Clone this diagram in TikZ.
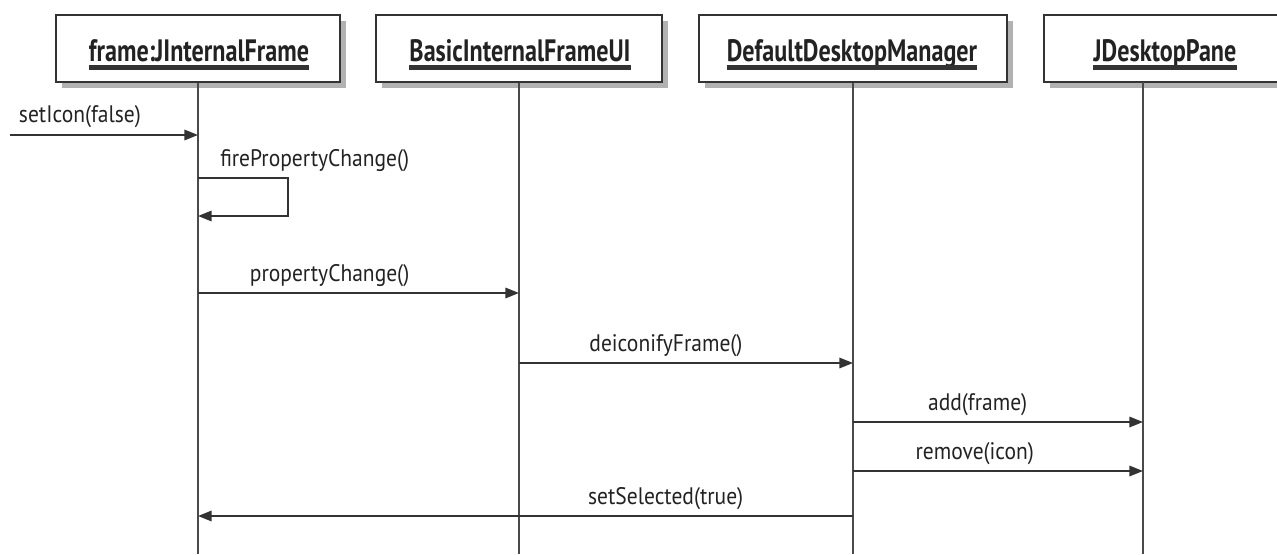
\documentclass[tikz,border=0pt]{standalone}
\usepackage{fontspec}
\setmainfont{PT Sans}[FakeStretch=0.9]
\newfontfamily\headfont{PT Sans}[FakeStretch=0.78]
\usetikzlibrary{arrows.meta,shadows}
\definecolor{SeqLine}{HTML}{333333}
\definecolor{SeqLife}{HTML}{4A4A4A}
\definecolor{SeqText}{HTML}{222222}

\begin{document}
\begin{tikzpicture}[x=0.025cm, y=-0.025cm,
  every node/.style={font=\fontsize{17}{20}\selectfont, text=SeqText},
  objbox/.style={draw=SeqLine, line width=1.4pt, fill=white, minimum height=1.675cm,
    drop shadow={shadow xshift=4pt, shadow yshift=-4pt, fill=black, opacity=0.3}},
  objname/.style={font=\headfont\bfseries\fontsize{22}{26}\selectfont, inner sep=0pt, anchor=base},
  uline/.style={line width=3.2pt, SeqLine},
  lifeline/.style={line width=1.4pt, SeqLife},
  msg/.style={line width=1.4pt, SeqLine, -{Triangle[length=0.34cm, width=0.26cm]}},
  lbl/.style={anchor=base, inner sep=0pt, yshift=0.28cm}]

\useasboundingbox (0,0) rectangle (1277,554);

% objects
\node[objbox, minimum width=7.1cm] (frame) at (198,48.5) {};
\node[objbox, minimum width=7.15cm] (ui) at (519,48.5) {};
\node[objbox, minimum width=7.7cm] (mgr) at (853,48.5) {};
\node[objbox, minimum width=6.05cm] (pane) at (1165,48.5) {};

\node[objname] (frameT) at (199,61) {frame:JInternalFrame};
\node[objname] (uiT) at (520,61) {BasicInternalFrameUI};
\node[objname] (mgrT) at (852,61) {DefaultDesktopManager};
\node[objname] (paneT) at (1165,61) {JDesktopPane};
\foreach \obj in {frameT,uiT,mgrT,paneT}
  \draw[uline] ([yshift=-4.5pt]\obj.base west) -- ([yshift=-4.5pt]\obj.base east);

% lifelines
\coordinate (paneTop) at (1143,82);
\coordinate (bottom) at (0,554);
\draw[lifeline] (frame.south) -- (frame.south |- bottom);
\draw[lifeline] (ui.south) -- (ui.south |- bottom);
\draw[lifeline] (mgr.south) -- (mgr.south |- bottom);
\draw[lifeline] (paneTop) -- (paneTop |- bottom);

% message rows
\coordinate (caller) at (10,135);
\coordinate (fireOut) at (198,178);
\coordinate (fireIn) at (198,216);
\coordinate (rowProp) at (0,293);
\coordinate (rowDeicon) at (0,363);
\coordinate (rowAdd) at (0,422);
\coordinate (rowRemove) at (0,471);
\coordinate (rowSelect) at (0,516);

% messages
\draw[msg] (caller) -- node[lbl, pos=0, anchor=base west, xshift=0.2cm, yshift=0.04cm]{setIcon(false)} (frame.south |- caller);
\draw[msg] (fireOut) -- ++(90,0) |- (fireIn);
\path (fireOut) node[lbl, anchor=base west, xshift=0.55cm]{firePropertyChange()};
\draw[msg] (frame.south |- rowProp) -- node[lbl, pos=0.41]{propertyChange()} (ui.south |- rowProp);
\draw[msg] (ui.south |- rowDeicon) -- node[lbl, pos=0.44]{deiconifyFrame()} (mgr.south |- rowDeicon);
\draw[msg] (mgr.south |- rowAdd) -- node[lbl, pos=0.43]{add(frame)} (paneTop |- rowAdd);
\draw[msg] (mgr.south |- rowRemove) -- node[lbl, pos=0.42]{remove(icon)} (paneTop |- rowRemove);
\draw[msg] (mgr.south |- rowSelect) -- node[lbl, pos=0.286]{setSelected(true)} (frame.south |- rowSelect);
\end{tikzpicture}
\end{document}
